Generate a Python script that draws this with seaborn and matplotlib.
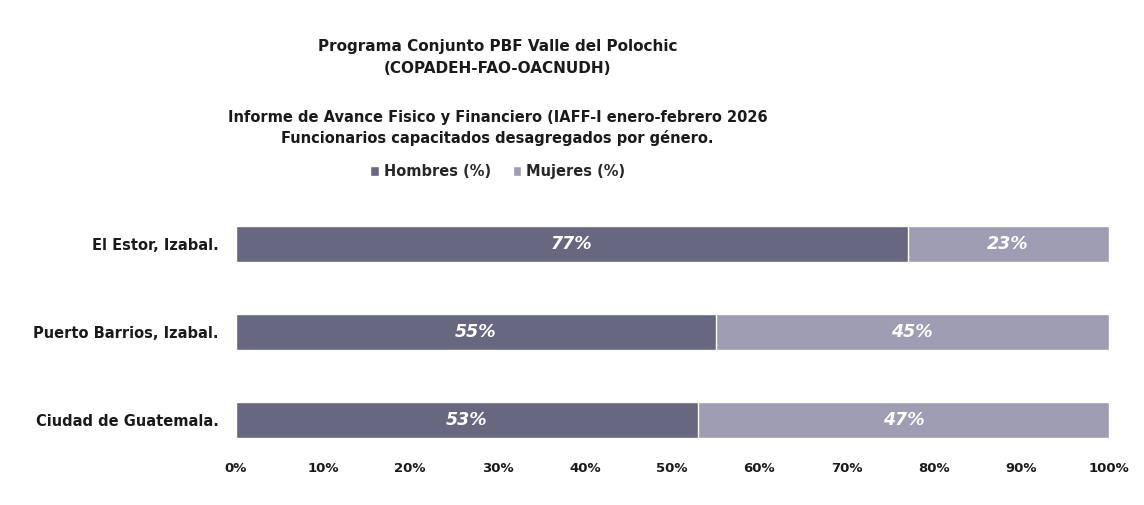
import matplotlib
matplotlib.use("Agg")
import matplotlib.pyplot as plt
import seaborn as sns
import pandas as pd
from matplotlib.patches import Patch
from matplotlib.ticker import FuncFormatter

# --- Data ---
municipios = ["El Estor, Izabal.", "Puerto Barrios, Izabal.", "Ciudad de Guatemala."]
hombres = [77, 55, 53]
mujeres = [23, 45, 47]

COLOR_HOMBRES = "#686780"
COLOR_MUJERES = "#9e9db4"

sns.set_theme(style="white")
plt.rcParams["font.family"] = ["DejaVu Sans"]

df = pd.DataFrame({"Municipio": municipios, "Hombres": hombres, "Mujeres": mujeres})
df["Total"] = df["Hombres"] + df["Mujeres"]

fig = plt.figure(figsize=(11.44, 5.05), dpi=100)
ax = fig.add_axes([0.206, 0.119, 0.763, 0.485])

# stacked bars: full total in light colour, men on top in dark colour
sns.barplot(data=df, x="Total", y="Municipio", color=COLOR_MUJERES, width=0.41,
            orient="h", ax=ax, saturation=1)
sns.barplot(data=df, x="Hombres", y="Municipio", color=COLOR_HOMBRES, width=0.41,
            orient="h", ax=ax, saturation=1)

# --- Value labels ---
for i, (h, m) in enumerate(zip(hombres, mujeres)):
    ax.text(h / 2, i, f"{h}%", ha="center", va="center", color="white",
            fontsize=12.5, fontweight="bold", fontstyle="italic")
    ax.text(h + m / 2, i, f"{m}%", ha="center", va="center", color="white",
            fontsize=12.5, fontweight="bold", fontstyle="italic")

# --- Axes styling ---
ax.set_xlim(0, 100)
ax.set_ylim(2.284, -0.5)
ax.set_xticks(range(0, 101, 10))
ax.xaxis.set_major_formatter(FuncFormatter(lambda v, p: f"{v:.0f}%"))
ax.set_xlabel("")
ax.set_ylabel("")
for s in ax.spines.values():
    s.set_visible(False)
ax.tick_params(axis="x", length=0, labelsize=9.5, pad=12)
ax.tick_params(axis="y", length=0, labelsize=10.5, pad=12)
for lbl in ax.get_xticklabels() + ax.get_yticklabels():
    lbl.set_fontweight("bold")
    lbl.set_color("#1a1a1a")

# --- Titles ---
fig.text(0.435, 0.886, "Programa Conjunto PBF Valle del Polochic\n(COPADEH-FAO-OACNUDH)",
         ha="center", va="center", fontsize=11, fontweight="bold", color="#1a1a1a",
         linespacing=1.6)
fig.text(0.435, 0.747, "Informe de Avance Fisico y Financiero (IAFF-I enero-febrero 2026\n"
         "Funcionarios capacitados desagregados por género.",
         ha="center", va="center", fontsize=10.5, fontweight="bold", color="#1a1a1a",
         linespacing=1.4)

handles = [Patch(facecolor=COLOR_HOMBRES, label="Hombres (%)"),
           Patch(facecolor=COLOR_MUJERES, label="Mujeres (%)")]
fig.legend(handles=handles, loc="center", bbox_to_anchor=(0.435, 0.66), ncol=2,
           frameon=False, handlelength=0.6, handleheight=0.6, handletextpad=0.3,
           columnspacing=1.5, prop={"size": 10.5, "weight": "bold"})

fig.savefig("out.png", dpi=100, facecolor="white")
